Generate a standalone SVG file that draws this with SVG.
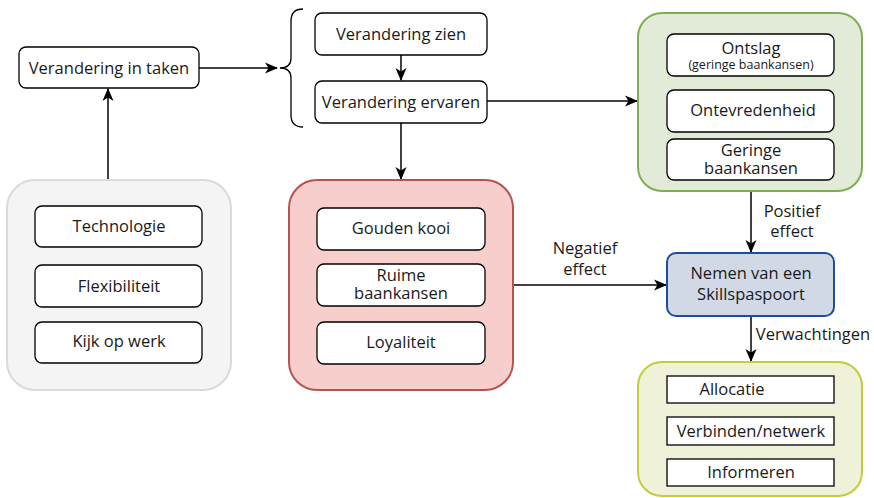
<svg xmlns="http://www.w3.org/2000/svg" width="874" height="498" viewBox="0 0 874 498">
  <style>
    text { font-family: "Open Sans", "Liberation Sans", sans-serif; font-size: 16.5px; fill: #1a1a1a; text-anchor: middle; }
    .small { font-size: 12.5px; }
    .item { fill: #ffffff; stroke: #000000; stroke-width: 1.3; }
    .edge { fill: none; stroke: #000000; stroke-width: 1.5; }
  </style>
  <defs>
    <marker id="arrow" markerWidth="14" markerHeight="14" refX="12" refY="7" orient="auto" markerUnits="userSpaceOnUse">
      <path d="M0,1.5 L13,7 L0,12.5 L3.5,7 Z" fill="#000000"/>
    </marker>
  </defs>
  <rect width="874" height="498" fill="#ffffff"/>

  <!-- Connectors -->
  <g id="connectors">
    <line class="edge" x1="108" y1="180" x2="108" y2="89" marker-end="url(#arrow)"/>
    <line class="edge" x1="199" y1="68" x2="277" y2="68" marker-end="url(#arrow)"/>
    <line class="edge" x1="401" y1="55" x2="401" y2="80" marker-end="url(#arrow)"/>
    <line class="edge" x1="401" y1="123" x2="401" y2="179" marker-end="url(#arrow)"/>
    <line class="edge" x1="487" y1="101" x2="637" y2="101" marker-end="url(#arrow)"/>
    <line class="edge" x1="513" y1="285" x2="666" y2="285" marker-end="url(#arrow)"/>
    <line class="edge" x1="751" y1="191" x2="751" y2="252" marker-end="url(#arrow)"/>
    <line class="edge" x1="751" y1="316" x2="751" y2="361" marker-end="url(#arrow)"/>
    <text x="585" y="254">Negatief</text>
    <text x="585" y="275">effect</text>
    <text x="792" y="217">Positief</text>
    <text x="792" y="237">effect</text>
    <text x="813" y="340">Verwachtingen</text>
  </g>

  <!-- Brace grouping the two perception steps -->
  <g id="brace">
    <path d="M303,9 Q291,9 291,21 L291,58 Q291,68 280,68 Q291,68 291,78 L291,115 Q291,127 303,127" fill="none" stroke="#000000" stroke-width="1.3"/>
  </g>

  <g id="verandering-in-taken">
    <rect class="item" x="19" y="47" width="180" height="41" rx="7"/>
    <text x="109" y="74">Verandering in taken</text>
  </g>

  <g id="verandering-zien">
    <rect class="item" x="315" y="13" width="172" height="42" rx="7"/>
    <text x="401" y="40">Verandering zien</text>
  </g>

  <g id="verandering-ervaren">
    <rect class="item" x="315" y="81" width="172" height="42" rx="7"/>
    <text x="401" y="108">Verandering ervaren</text>
  </g>

  <g id="oorzaken">
    <rect x="7" y="180" width="224" height="210" rx="28" fill="#f4f4f4" stroke="#dadada" stroke-width="2"/>
    <rect class="item" x="35" y="206" width="167" height="41" rx="7"/>
    <text x="119" y="232">Technologie</text>
    <rect class="item" x="35" y="265" width="167" height="42" rx="7"/>
    <text x="119" y="292">Flexibiliteit</text>
    <rect class="item" x="35" y="322" width="167" height="41" rx="7"/>
    <text x="119" y="347">Kijk op werk</text>
  </g>

  <g id="negatief">
    <rect x="289" y="180" width="224" height="210" rx="28" fill="#f8cecc" stroke="#b85450" stroke-width="2"/>
    <rect class="item" x="317" y="208" width="168" height="42" rx="7"/>
    <text x="401" y="234">Gouden kooi</text>
    <rect class="item" x="317" y="264" width="168" height="42" rx="7"/>
    <text x="401" y="281">Ruime</text>
    <text x="401" y="299">baankansen</text>
    <rect class="item" x="317" y="322" width="168" height="42" rx="7"/>
    <text x="401" y="348">Loyaliteit</text>
  </g>

  <g id="positief">
    <rect x="638" y="13" width="224" height="178" rx="24" fill="#e2ebd7" stroke="#7fae52" stroke-width="2"/>
    <rect class="item" x="667" y="34" width="167" height="42" rx="7"/>
    <text x="751" y="54">Ontslag</text>
    <text class="small" x="751" y="69">(geringe baankansen)</text>
    <rect class="item" x="667" y="90" width="167" height="42" rx="7"/>
    <text x="753" y="116">Ontevredenheid</text>
    <rect class="item" x="667" y="139" width="167" height="41" rx="7"/>
    <text x="751" y="156">Geringe</text>
    <text x="751" y="174">baankansen</text>
  </g>

  <g id="skillspaspoort">
    <rect x="667" y="253" width="167" height="63" rx="9" fill="#d1d9e7" stroke="#1e4e99" stroke-width="2"/>
    <text x="751" y="279">Nemen van een</text>
    <text x="751" y="300">Skillspaspoort</text>
  </g>

  <g id="verwachtingen">
    <rect x="638" y="362" width="224" height="134" rx="24" fill="#eff2d8" stroke="#c4cc3c" stroke-width="2"/>
    <rect class="item" x="667" y="376" width="167" height="27"/>
    <text x="732" y="395">Allocatie</text>
    <rect class="item" x="667" y="417" width="167" height="28"/>
    <text x="751" y="437">Verbinden/netwerk</text>
    <rect class="item" x="667" y="459" width="167" height="27"/>
    <text x="751" y="478">Informeren</text>
  </g>
</svg>
